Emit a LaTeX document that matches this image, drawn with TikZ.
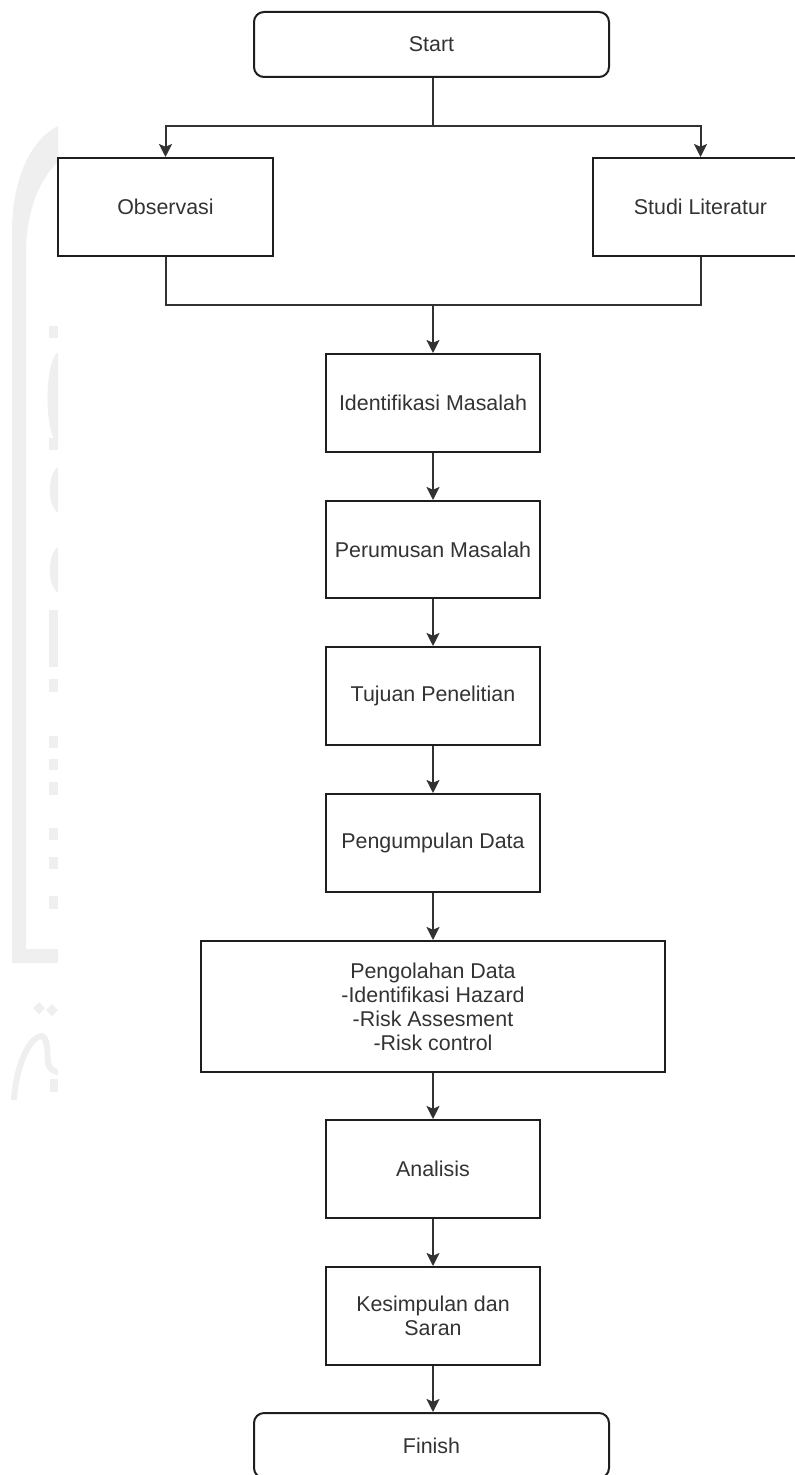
\documentclass[tikz,border=0pt]{standalone}
\usepackage{fontspec}
\setmainfont{Liberation Sans}
\usetikzlibrary{arrows.meta}
\definecolor{txt}{RGB}{51,51,51}
\definecolor{edge}{RGB}{30,30,30}
\definecolor{conn}{RGB}{50,50,50}
\definecolor{wm}{RGB}{239,239,239}
\begin{document}
\begin{tikzpicture}[x=0.5pt,y=-0.5pt,
  font=\fontsize{10.7pt}{12pt}\selectfont,
  stepbox/.style={draw=edge,line width=1pt,fill=white,text=txt,align=center,inner sep=0pt},
  termbox/.style={stepbox,rounded corners=5pt},
  line/.style={draw=conn,line width=1pt},
  arr/.style={line,-{Stealth[length=6.5pt,width=6.5pt,inset=1.4pt]}}]
\useasboundingbox (0,0) rectangle (795,1475);
\clip (0,0) rectangle (795,1475);
% faint watermark at the left edge
\begin{scope}
\clip (0,0) rectangle (58,1475);
\fill[wm] (58,126) .. controls (30,140) and (12,180) .. (12,232) -- (12,963) -- (58,963) -- (58,949) -- (26,949) -- (26,252) .. controls (26,212) and (40,178) .. (58,162) -- cycle;
\foreach \a/\b in {326/338,438/450,610/667,679/692,736/748,759/770,782/795,828/840,857/869,896/909}
  \fill[wm] (49,\a) rectangle (58,\b);
\fill[wm] (58,352) .. controls (44,362) and (44,434) .. (58,444) -- cycle;
\fill[wm] (58,467) .. controls (47,475) and (47,505) .. (58,513) -- cycle;
\fill[wm] (58,547) .. controls (47,555) and (47,585) .. (58,593) -- cycle;
\fill[wm] (39,1002) -- (45,1008) -- (39,1014) -- (33,1008) -- cycle;
\fill[wm] (52,1004) -- (58,1010) -- (52,1016) -- (46,1010) -- cycle;
\draw[wm,line width=3pt] (14,1100) .. controls (16,1065) and (30,1036) .. (42,1036) .. controls (50,1040) and (46,1060) .. (49,1066) .. controls (51,1070) and (55,1072) .. (58,1072);
\fill[wm] (50,1079) rectangle (58,1092);
\end{scope}
% nodes
\node[termbox,minimum width=355*0.5pt,minimum height=65*0.5pt] (start) at (431.5,44.5) {Start};
\node[stepbox,minimum width=215*0.5pt,minimum height=98*0.5pt] (obs) at (165.5,207) {Observasi};
\node[stepbox,minimum width=215*0.5pt,minimum height=98*0.5pt] (studi) at (700.5,207) {Studi Literatur};
\node[stepbox,minimum width=214*0.5pt,minimum height=98*0.5pt] (ident) at (433,403) {Identifikasi Masalah};
\node[stepbox,minimum width=214*0.5pt,minimum height=97*0.5pt] (perum) at (433,549.5) {Perumusan Masalah};
\node[stepbox,minimum width=214*0.5pt,minimum height=98*0.5pt] (tujuan) at (433,696) {Tujuan Penelitian};
\node[stepbox,minimum width=214*0.5pt,minimum height=98*0.5pt] (kumpul) at (433,843) {Pengumpulan Data};
\node[stepbox,minimum width=464*0.5pt,minimum height=131*0.5pt] (olah) at (433,1006.5) {Pengolahan Data\\-Identifikasi Hazard\\-Risk Assesment\\-Risk control};
\node[stepbox,minimum width=214*0.5pt,minimum height=98*0.5pt] (anal) at (433,1169) {Analisis};
\node[stepbox,minimum width=214*0.5pt,minimum height=98*0.5pt] (simpul) at (433,1316) {Kesimpulan dan\\Saran};
\node[termbox,minimum width=355*0.5pt,minimum height=65*0.5pt] (finish) at (431.5,1445.5) {Finish};
% connectors
\coordinate (split) at (433,126);
\coordinate (merge) at (433,305);
\draw[line] (start.south -| split) -- (split);
\draw[arr] (split) -| (obs.north);
\draw[arr] (split) -| (studi.north);
\draw[line] (obs.south) |- (merge);
\draw[line] (studi.south) |- (merge);
\draw[arr] (merge) -- (ident.north);
\draw[arr] (ident) -- (perum);
\draw[arr] (perum) -- (tujuan);
\draw[arr] (tujuan) -- (kumpul);
\draw[arr] (kumpul) -- (olah);
\draw[arr] (olah) -- (anal);
\draw[arr] (anal) -- (simpul);
\draw[arr] (simpul.south) -- (simpul.south |- finish.north);
\end{tikzpicture}
\end{document}
